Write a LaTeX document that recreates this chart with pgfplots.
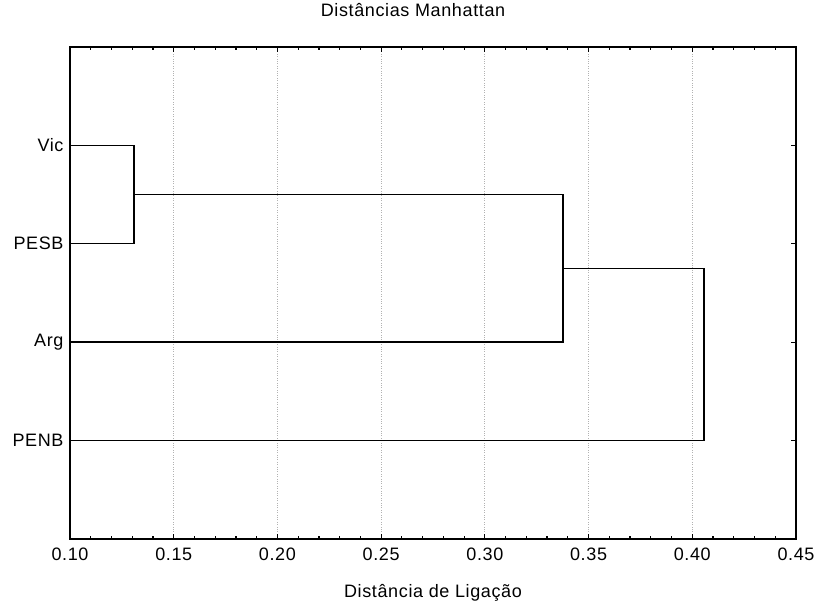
\documentclass[border=0pt]{standalone}
\usepackage{fontspec}
\setmainfont[LetterSpace=3.5]{Liberation Sans}
\usepackage{pgfplots}
\pgfplotsset{compat=1.18}
\begin{document}
\begin{tikzpicture}
\begin{axis}[
    scale only axis,
    width=726pt,
    height=492pt,
    xmin=0.10, xmax=0.45,
    ymin=0, ymax=5,
    xtick={0.10,0.15,...,0.45},
    minor x tick num=4,
    ytick={1,2,3,4},
    yticklabels={PENB, Arg, PESB, Vic},
    tick align=inside,
    major tick length=5pt,
    minor tick length=3pt,
    tick style={black, line width=1.2pt},
    axis line style={line width=1.8pt},
    xmajorgrids,
    major grid style={dotted, gray!60, line width=0.9pt},
    /pgf/number format/assume math mode=true,
    xticklabel={\pgfmathprintnumber[fixed, fixed zerofill, precision=2]{\tick}},
    tick label style={font=\fontsize{18}{21}\selectfont},
    xticklabel style={yshift=-5pt},
    yticklabel style={xshift=-3pt},
    title={Distâncias Manhattan},
    title style={font=\fontsize{18}{21}\selectfont, at={(axis description cs:0.5,1)}, anchor=center, yshift=31pt, xshift=-20pt},
    xlabel={Distância de Ligação},
    xlabel style={font=\fontsize{18}{21}\selectfont, at={(axis description cs:0.5,0)}, anchor=center, yshift=-54pt},
    clip=false,
]
% Vic + PESB
\addplot[black, line width=1.4pt] coordinates {(0.10,4) (0.1309,4) (0.1309,3) (0.10,3)};
% (Vic,PESB) + Arg
\addplot[black, line width=1.4pt] coordinates {(0.1309,3.5) (0.3377,3.5) (0.3377,2) (0.10,2)};
% + PENB
\addplot[black, line width=1.4pt] coordinates {(0.3377,2.75) (0.4056,2.75) (0.4056,1) (0.10,1)};
\end{axis}
\useasboundingbox ([xshift=-70pt,yshift=-71pt]current axis.south west) rectangle ([xshift=24pt,yshift=44pt]current axis.north east);
\end{tikzpicture}
\end{document}
